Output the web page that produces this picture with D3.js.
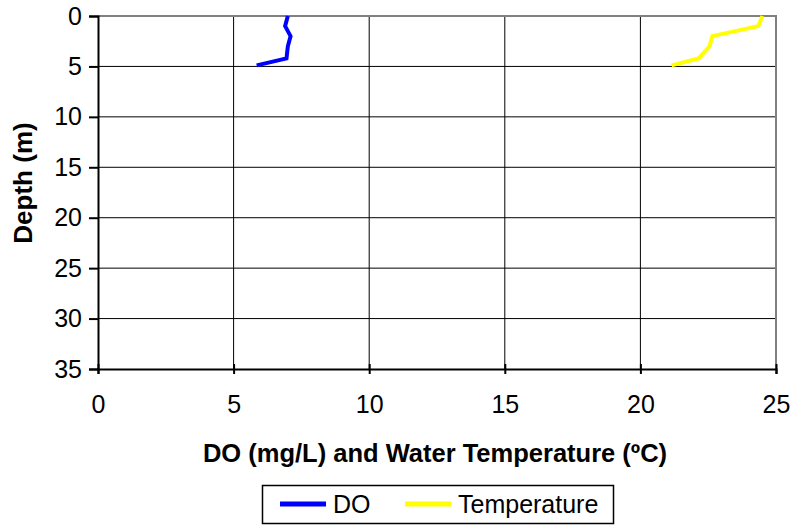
<!DOCTYPE html>
<html>
<head>
<meta charset="utf-8">
<script src="https://cdn.jsdelivr.net/npm/d3@7"></script>
<style>
  body { margin: 0; background: #fff; }
  text { font-family: Arial, "Liberation Sans", sans-serif; }
</style>
</head>
<body>
<div id="chart"></div>
<script>
// valeurs
const doDepth = [0, 1, 2, 3, 4.2, 4.9];
const doValues = [7.0, 6.9, 7.1, 7.0, 6.95, 5.85];
const tempDepth = [0, 1, 2, 3, 4.2, 4.9];
const tempValues = [24.5, 24.35, 22.65, 22.55, 22.15, 21.15];
const xTicks = [0, 5, 10, 15, 20, 25];
const yTicks = [0, 5, 10, 15, 20, 25, 30, 35];

const width = 792, height = 527;
const plotLeft = 98, plotRight = 776, plotTop = 16, plotBottom = 369;

const svg = d3.select("#chart").append("svg")
  .attr("width", width)
  .attr("height", height);

const x = d3.scaleLinear().domain([0, 25]).range([plotLeft, plotRight]);
const y = d3.scaleLinear().domain([0, 35]).range([plotTop, plotBottom]);

// grille
svg.append("g").selectAll("line").data(yTicks.slice(1, -1))
  .join("line")
  .attr("x1", plotLeft).attr("x2", plotRight)
  .attr("y1", d => y(d)).attr("y2", d => y(d))
  .attr("stroke", "#000").attr("stroke-width", 1);
svg.append("g").selectAll("line").data(xTicks.slice(1, -1))
  .join("line")
  .attr("x1", d => x(d)).attr("x2", d => x(d))
  .attr("y1", plotTop).attr("y2", plotBottom)
  .attr("stroke", "#000").attr("stroke-width", 1);

// bordure grise du cadre
svg.append("path")
  .attr("d", `M${plotLeft},${plotTop}H${plotRight}V${plotBottom}`)
  .attr("fill", "none")
  .attr("stroke", "#808080")
  .attr("stroke-width", 2);

// axe x (traits croisés)
const xAxis = svg.append("g")
  .attr("transform", `translate(0,${plotBottom})`)
  .call(d3.axisBottom(x).tickValues(xTicks).tickSize(5).tickPadding(21));
xAxis.select(".domain").attr("stroke-width", 2);
xAxis.selectAll(".tick line").attr("y1", -5).attr("stroke-width", 2);
xAxis.selectAll("text").style("font-size", "25px").attr("fill", "#000");

// axe y
const yAxis = svg.append("g")
  .attr("transform", `translate(${plotLeft},0)`)
  .call(d3.axisLeft(y).tickValues(yTicks).tickSize(9).tickPadding(7));
yAxis.select(".domain").attr("stroke-width", 2);
yAxis.selectAll(".tick line").attr("stroke-width", 2);
yAxis.selectAll("text").style("font-size", "25px").attr("fill", "#000");

// courbes
const line = d3.line();
svg.append("path")
  .attr("d", line(doValues.map((v, i) => [x(v), y(doDepth[i])])))
  .attr("fill", "none")
  .attr("stroke", "#0000ff")
  .attr("stroke-width", 4);
svg.append("path")
  .attr("d", line(tempValues.map((v, i) => [x(v), y(tempDepth[i])])))
  .attr("fill", "none")
  .attr("stroke", "#ffff00")
  .attr("stroke-width", 4);

// titres des axes
svg.append("text")
  .attr("x", 435)
  .attr("y", 462)
  .attr("text-anchor", "middle")
  .style("font-size", "25.5px")
  .style("font-weight", "bold")
  .text("DO (mg/L) and Water Temperature (ºC)");

svg.append("text")
  .attr("transform", "translate(32,183) rotate(-90)")
  .attr("text-anchor", "middle")
  .style("font-size", "26px")
  .style("font-weight", "bold")
  .text("Depth (m)");

// légende
const legend = svg.append("g");
legend.append("rect")
  .attr("x", 262.5).attr("y", 485.5)
  .attr("width", 351).attr("height", 38)
  .attr("fill", "#fff")
  .attr("stroke", "#000")
  .attr("stroke-width", 1.5);
const items = [
  { name: "DO", color: "#0000ff", x0: 280 },
  { name: "Temperature", color: "#ffff00", x0: 405 }
];
items.forEach(it => {
  legend.append("line")
    .attr("x1", it.x0).attr("x2", it.x0 + 46)
    .attr("y1", 504).attr("y2", 504)
    .attr("stroke", it.color)
    .attr("stroke-width", 5);
  legend.append("text")
    .attr("x", it.x0 + 53)
    .attr("y", 513)
    .style("font-size", "25px")
    .text(it.name);
});
</script>
</body>
</html>
